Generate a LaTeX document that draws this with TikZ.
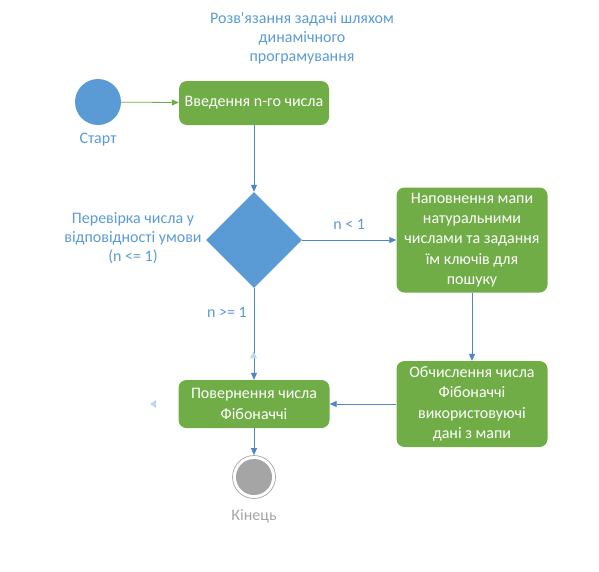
\documentclass[tikz,border=0pt]{standalone}
\usepackage{fontspec}
\setmainfont{Carlito}[Ligatures=TeXOff]
\usetikzlibrary{shapes.geometric,arrows.meta}
\definecolor{ublue}{HTML}{5B9BD5}
\definecolor{lblue}{HTML}{4F86C6}
\definecolor{ugreen}{HTML}{70AD47}
\definecolor{ugray}{HTML}{A5A5A5}
\definecolor{faint}{HTML}{BDD7EE}
\tikzset{
  actbox/.style={draw=none,fill=ugreen,rounded corners=8pt,text=white,align=center,font=\fontsize{16}{20.3}\selectfont,inner sep=0pt},
  lbl/.style={text=ublue,align=center,font=\fontsize{16}{18.8}\selectfont},
  conn/.style={draw=lblue,line width=0.8pt,-{Triangle[length=7pt,width=6pt]}},
  gconn/.style={draw=ugreen,line width=0.8pt,-{Triangle[length=7pt,width=6pt]}},
}
\begin{document}
\begin{tikzpicture}[x=1pt,y=-1pt]
\useasboundingbox (0,0) rectangle (599,571);
\node[lbl] (title) at (302,38) {Розв'язання задачі шляхом\\динамічного\\програмування};
\node[circle,fill=ublue,minimum size=46pt,inner sep=0pt] (start) at (98,102) {};
\node[lbl] (startl) at (98,140) {Старт};
\node[actbox,minimum width=150pt,minimum height=44pt] (b1) at (254,103) {Введення n-го числа};
\node[diamond,fill=ublue,minimum width=96pt,minimum height=96pt,inner sep=0pt] (d) at (254,240) {};
\node[lbl] (dl) at (133,238) {Перевірка числа у\\відповідності умови\\(n <= 1)};
\node[actbox,minimum width=151pt,minimum height=105pt] (b2) at (472,240) {Наповнення мапи\\натуральними\\числами та задання\\їм ключів для\\пошуку};
\node[actbox,minimum width=151pt,minimum height=86pt] (b3) at (472,404) {Обчислення числа\\Фібоначчі\\використовуючі\\дані з мапи};
\node[actbox,minimum width=151pt,minimum height=48pt] (b4) at (254,404) {Повернення числа\\Фібоначчі};
\node[circle,draw=ugray,line width=0.7pt,fill=white,minimum size=43pt,inner sep=0pt] (end) at (254,477) {};
\node[circle,fill=ugray,minimum size=36pt,inner sep=0pt] (endin) at (end.center) {};
\node[text=ugray,font=\fontsize{16}{19}\selectfont] (endl) at (254,516) {Кінець};
\draw[gconn] (start) -- (b1);
\draw[conn] (b1.south) -- (d.north);
\draw[conn] (d.east) -- node[lbl,above=7pt] (l1) {n < 1} (b2.west);
\draw[conn] (b2.south) -- (b3.north);
\draw[conn] (b3.west) -- (b4.east);
\draw[conn] (d.south) -- (b4.north);
\node[lbl] (l2) at (227,312) {n >= 1};
\draw[conn] (b4.south) -- (end.north);
\fill[faint] (250,358) -- (257,358) -- (253.5,351.5) -- cycle;
\fill[faint] (156,400) -- (156,408) -- (150,404) -- cycle;
\end{tikzpicture}
\end{document}
